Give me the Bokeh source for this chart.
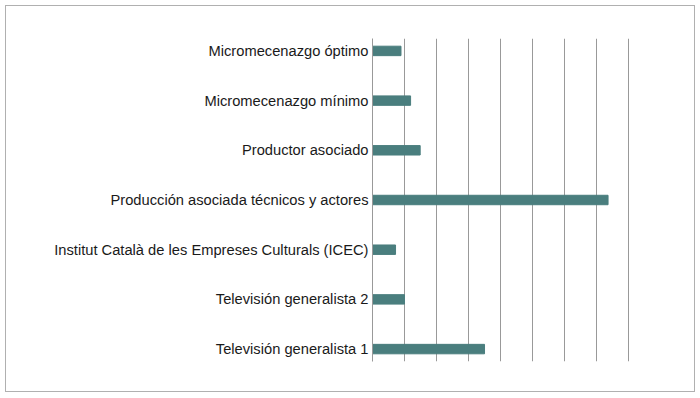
from bokeh.plotting import figure
from bokeh.models import Range1d, FixedTicker
from bokeh.embed import file_html
from bokeh.resources import INLINE

categories = [
    "Micromecenazgo óptimo",
    "Micromecenazgo mínimo",
    "Productor asociado",
    "Producción asociada técnicos y actores",
    "Institut Català de les Empreses Culturals (ICEC)",
    "Televisión generalista 2",
    "Televisión generalista 1",
]
values = [0.89, 1.19, 1.49, 7.36, 0.72, 1.0, 3.5]
grid_ticks = [0, 1, 2, 3, 4, 5, 6, 7, 8]

n = len(categories)
ypos = [n - 1 - i for i in range(n)]

p = figure(width=690, height=387, output_backend="svg", toolbar_location=None,
           x_range=Range1d(0, 8.03), y_range=Range1d(-0.25, n - 0.75),
           min_border_left=366, min_border_right=67, min_border_top=32, min_border_bottom=32)
p.styles = {"border": "1px solid #b0b0b0", "margin": "5px 0 0 5px"}
p.outline_line_color = None

p.hbar(y=ypos, right=values, left=0, height=0.19, color="#4a7e7e")

p.xaxis.visible = False
p.xgrid.ticker = FixedTicker(ticks=grid_ticks)
p.xgrid.grid_line_color = "#999999"
p.xgrid.grid_line_width = 1
p.ygrid.visible = False

p.yaxis.ticker = FixedTicker(ticks=ypos)
p.yaxis.major_label_overrides = {y: c for y, c in zip(ypos, categories)}
p.yaxis.major_tick_line_color = None
p.yaxis.major_tick_out = 0
p.yaxis.major_tick_in = 0
p.yaxis.minor_tick_line_color = None
p.yaxis.minor_tick_out = 0
p.yaxis.axis_line_color = "#999999"
p.yaxis.major_label_standoff = 4
p.yaxis.major_label_text_font = "Liberation Sans"
p.yaxis.major_label_text_font_size = "14.7px"
p.yaxis.major_label_text_color = "#1a1a1a"

open("out.html", "w").write(file_html(p, INLINE))
